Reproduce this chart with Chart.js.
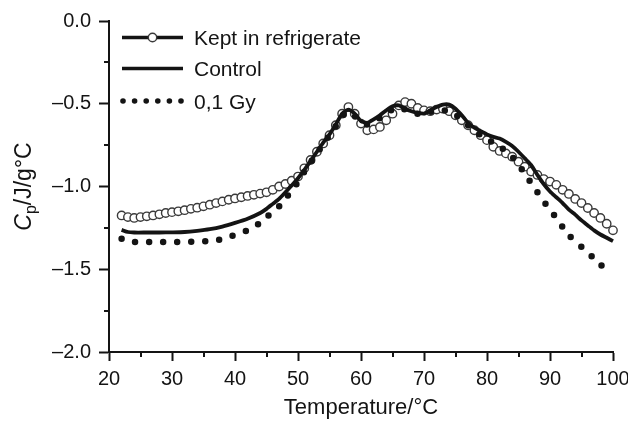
<!DOCTYPE html>
<html>
<head>
<meta charset="utf-8">
<script src="https://cdn.jsdelivr.net/npm/chart.js@4"></script>
<style>
  html, body { margin: 0; padding: 0; background: #fff; }
  #wrap { width: 628px; height: 425px; }
</style>
</head>
<body>
<div id="wrap"><canvas id="cpChart" width="628" height="425"></canvas></div>
<script>
// heat capacity scans, Cp in J/g°C against temperature in °C
const tempKept = [22, 23, 24, 25, 26, 27, 28, 29, 30, 31, 32, 33, 34, 35, 36, 37, 38, 39, 40,
  41, 42, 43, 44, 45, 46, 47, 48, 49, 50, 51, 52, 53, 54, 55, 56, 57, 58, 59, 60,
  61, 62, 63, 64, 65, 66, 67, 68, 69, 70, 71, 72, 73, 74, 75, 76, 77, 78, 79, 80,
  81, 82, 83, 84, 85, 86, 87, 88, 89, 90, 91, 92, 93, 94, 95, 96, 97, 98, 99, 100];
const cpKept = [-1.175, -1.185, -1.19, -1.185, -1.18, -1.175, -1.168, -1.16, -1.155, -1.15,
  -1.143, -1.135, -1.128, -1.12, -1.11, -1.10, -1.09, -1.08, -1.072,
  -1.065, -1.057, -1.05, -1.043, -1.035, -1.02, -1.00, -0.985, -0.965, -0.94,
  -0.89, -0.84, -0.79, -0.74, -0.69, -0.63, -0.56, -0.52, -0.56, -0.62,
  -0.66, -0.655, -0.64, -0.60, -0.56, -0.51, -0.49, -0.50, -0.525, -0.54,
  -0.545, -0.535, -0.53, -0.545, -0.57, -0.60, -0.63, -0.66, -0.69, -0.72,
  -0.76, -0.785, -0.80, -0.82, -0.85, -0.88, -0.91, -0.93, -0.955, -0.97,
  -0.99, -1.02, -1.045, -1.075, -1.10, -1.13, -1.16, -1.19, -1.225, -1.265];

const tempControl = [22, 23, 24, 26, 28, 30, 32, 34, 36, 38, 40, 42, 44, 45, 46, 47, 48, 49, 50,
  51, 52, 53, 54, 55, 56, 57, 58, 59, 60, 61, 62, 63, 64, 65, 66, 67, 68, 69, 70,
  71, 72, 73, 74, 75, 76, 77, 78, 79, 80, 81, 82, 83, 84, 85, 86, 87, 88, 89, 90,
  91, 92, 93, 94, 95, 96, 97, 98, 99, 100];
const cpControl = [-1.262, -1.275, -1.278, -1.278, -1.278, -1.277, -1.275, -1.268, -1.258, -1.242,
  -1.22, -1.195, -1.16, -1.135, -1.105, -1.075, -1.035, -0.994, -0.95,
  -0.90, -0.845, -0.79, -0.735, -0.685, -0.625, -0.56, -0.535, -0.56, -0.605,
  -0.615, -0.595, -0.57, -0.54, -0.515, -0.51, -0.53, -0.545, -0.555, -0.56,
  -0.54, -0.52, -0.505, -0.505, -0.53, -0.57, -0.615, -0.645, -0.665, -0.685,
  -0.70, -0.71, -0.73, -0.755, -0.79, -0.83, -0.87, -0.93, -0.985, -1.03,
  -1.065, -1.10, -1.14, -1.17, -1.205, -1.235, -1.265, -1.29, -1.31, -1.33];

const tempDose = [22, 24, 26, 28, 30, 32, 34, 36, 38, 40, 42, 44, 45, 46, 47, 48, 49, 50,
  51, 52, 53, 54, 55, 56, 57, 58, 59, 60, 61, 62, 63, 64, 65, 66, 67, 68, 69, 70,
  71, 72, 73, 74, 75, 76, 77, 78, 79, 80, 81, 82, 83, 84, 85, 86, 87, 88, 89, 90,
  91, 92, 93, 94, 95, 96, 97, 98, 99];
const cpDose = [-1.316, -1.335, -1.335, -1.335, -1.335, -1.335, -1.333, -1.328, -1.318, -1.292,
  -1.265, -1.22, -1.185, -1.155, -1.12, -1.07, -1.03, -0.97,
  -0.91, -0.855, -0.80, -0.745, -0.69, -0.635, -0.575, -0.55, -0.575, -0.61,
  -0.625, -0.61, -0.585, -0.56, -0.535, -0.525, -0.535, -0.55, -0.56, -0.56,
  -0.55, -0.54, -0.54, -0.545, -0.565, -0.60, -0.63, -0.66, -0.69, -0.715,
  -0.735, -0.76, -0.785, -0.82, -0.87, -0.92, -0.98, -1.035, -1.09, -1.14,
  -1.19, -1.245, -1.295, -1.33, -1.365, -1.40, -1.435, -1.47, -1.51];

const seriesNames = ['Kept in refrigerate', 'Control', '0,1 Gy'];
const xTicks = [20, 30, 40, 50, 60, 70, 80, 90, 100];
const xMinor = [25, 35, 45, 55, 65, 75, 85, 95];
const yTicks = [-2.0, -1.5, -1.0, -0.5, 0.0];
const yMinor = [-1.75, -1.25, -0.75, -0.25];

const FONT = "'Liberation Sans', Arial, Helvetica, sans-serif";
const INK = '#141414';

function toPoints(xs, ys) {
  return xs.map((x, i) => ({ x: x, y: ys[i] }));
}

function fmtY(v) {
  const s = Math.abs(v).toFixed(1);
  return v < 0 ? '\u2013' + s : s;
}

// minor ticks, the y title with its subscript, and the in-plot legend
const decorations = {
  id: 'decorations',
  afterDraw(chart) {
    const ctx = chart.ctx;
    const xs = chart.scales.x;
    const ys = chart.scales.y;
    const area = chart.chartArea;
    ctx.save();
    ctx.strokeStyle = INK;
    ctx.lineWidth = 2;
    ctx.beginPath();
    xMinor.forEach(v => {
      const px = Math.round(xs.getPixelForValue(v));
      ctx.moveTo(px, area.bottom);
      ctx.lineTo(px, area.bottom + 5);
    });
    yMinor.forEach(v => {
      const py = Math.round(ys.getPixelForValue(v));
      ctx.moveTo(area.left, py);
      ctx.lineTo(area.left - 5, py);
    });
    ctx.stroke();

    // y axis title: C (italic) p (subscript) /J/g°C
    ctx.fillStyle = INK;
    ctx.translate(31, (area.top + area.bottom) / 2);
    ctx.rotate(-Math.PI / 2);
    const big = '23px ' + FONT;
    const bigIt = 'italic 23px ' + FONT;
    const small = '16px ' + FONT;
    ctx.font = bigIt; const wC = ctx.measureText('C').width;
    ctx.font = small; const wP = ctx.measureText('p').width;
    ctx.font = big; const wRest = ctx.measureText('/J/g\u00b0C').width;
    let x0 = -(wC + wP + wRest) / 2;
    ctx.textBaseline = 'alphabetic';
    ctx.font = bigIt; ctx.fillText('C', x0, 0); x0 += wC;
    ctx.font = small; ctx.fillText('p', x0, 5); x0 += wP;
    ctx.font = big; ctx.fillText('/J/g\u00b0C', x0, 0);
    ctx.restore();

    // legend
    ctx.save();
    const rows = [37.5, 68.5, 101];
    const lx0 = 122, lx1 = 183;
    ctx.strokeStyle = INK;
    ctx.fillStyle = INK;
    ctx.lineWidth = 3.4;
    ctx.beginPath();
    ctx.moveTo(lx0, rows[0]); ctx.lineTo(lx1, rows[0]);
    ctx.moveTo(lx0, rows[1]); ctx.lineTo(lx1, rows[1]);
    ctx.stroke();
    ctx.beginPath();
    ctx.arc((lx0 + lx1) / 2, rows[0], 4.2, 0, Math.PI * 2);
    ctx.fillStyle = '#fff';
    ctx.fill();
    ctx.lineWidth = 1.4;
    ctx.strokeStyle = '#3a3a3a';
    ctx.stroke();
    ctx.fillStyle = INK;
    for (let k = 0; k < 6; k++) {
      ctx.beginPath();
      ctx.arc(lx0 + 1 + k * 11.6, rows[2], 2.8, 0, Math.PI * 2);
      ctx.fill();
    }
    ctx.font = '21px ' + FONT;
    ctx.textBaseline = 'alphabetic';
    seriesNames.forEach((name, i) => ctx.fillText(name, 194, rows[i] + 7.5));
    ctx.restore();
  }
};

const ctx = document.getElementById('cpChart');
new Chart(ctx, {
  type: 'line',
  data: {
    datasets: [
      {
        label: seriesNames[0],
        data: toPoints(tempKept, cpKept),
        showLine: false,
        pointRadius: 4.2,
        pointBorderWidth: 1.4,
        pointBorderColor: '#3a3a3a',
        pointBackgroundColor: '#fff',
        clip: false,
        order: 3
      },
      {
        label: seriesNames[1],
        data: toPoints(tempControl, cpControl),
        borderColor: INK,
        borderWidth: 3.8,
        pointRadius: 0,
        tension: 0.2,
        clip: false,
        order: 2
      },
      {
        label: seriesNames[2],
        data: toPoints(tempDose, cpDose),
        borderColor: INK,
        borderWidth: 6.5,
        borderDash: [0, 14],
        borderCapStyle: 'round',
        pointRadius: 0,
        tension: 0.2,
        clip: false,
        order: 1
      }
    ]
  },
  options: {
    responsive: false,
    devicePixelRatio: 1,
    animation: false,
    layout: { padding: { top: 21, right: 15, bottom: 0, left: 0 } },
    plugins: {
      legend: { display: false },
      tooltip: { enabled: false }
    },
    scales: {
      x: {
        type: 'linear',
        min: 20,
        max: 100,
        afterBuildTicks: (scale) => { scale.ticks = xTicks.map(v => ({ value: v })); },
        afterFit: (scale) => {
          scale.height = 73;
          scale.paddingLeft = 0;
          scale.paddingRight = 0;
        },
        ticks: {
          color: INK,
          font: { family: FONT, size: 20 },
          padding: 6,
          maxRotation: 0
        },
        grid: {
          drawOnChartArea: false,
          tickLength: 9,
          tickWidth: 2,
          tickColor: INK
        },
        border: { display: true, color: INK, width: 2 },
        title: {
          display: true,
          text: 'Temperature/\u00b0C',
          color: INK,
          font: { family: FONT, size: 22 },
          padding: { top: 0, bottom: 4 }
        }
      },
      y: {
        type: 'linear',
        min: -2,
        max: 0,
        afterBuildTicks: (scale) => { scale.ticks = yTicks.map(v => ({ value: v })); },
        afterFit: (scale) => {
          scale.width = 109;
          scale.paddingTop = 0;
          scale.paddingBottom = 0;
        },
        ticks: {
          color: INK,
          font: { family: FONT, size: 20 },
          padding: 8,
          callback: (v) => fmtY(v)
        },
        grid: {
          drawOnChartArea: false,
          tickLength: 10,
          tickWidth: 2,
          tickColor: INK
        },
        border: { display: true, color: INK, width: 2 }
      }
    }
  },
  plugins: [decorations]
});
</script>
</body>
</html>
